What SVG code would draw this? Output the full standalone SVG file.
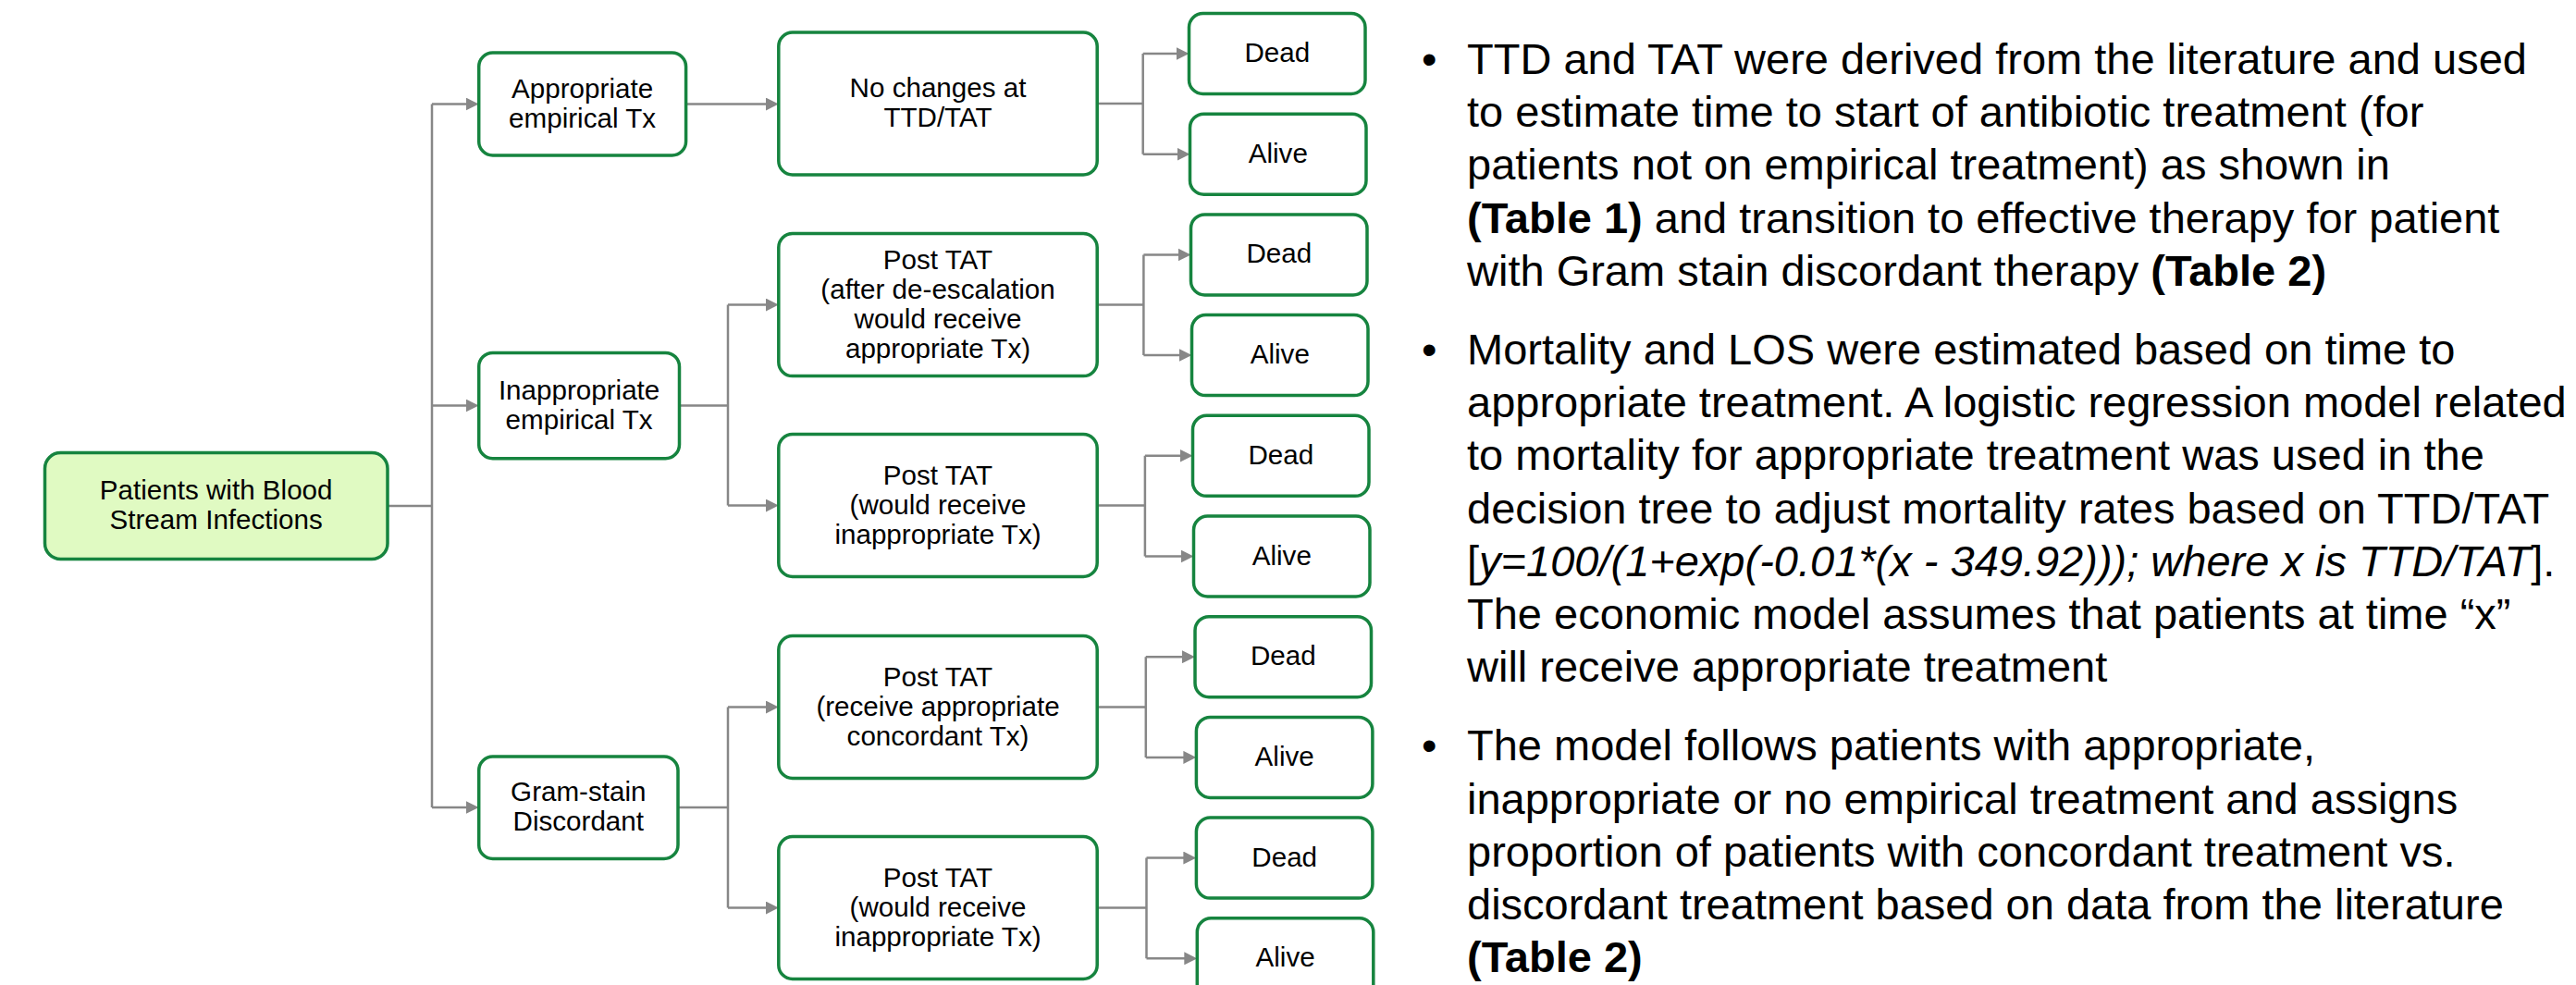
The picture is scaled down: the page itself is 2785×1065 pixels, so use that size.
<svg xmlns="http://www.w3.org/2000/svg" width="2785" height="1065" viewBox="0 0 2785 1065">
<defs>
<style>
.box{fill:#ffffff;stroke:#16843F;stroke-width:3.5}
.root{fill:#E0FAC2;stroke:#16843F;stroke-width:3.5}
.t{font-family:"Liberation Sans",Arial,sans-serif;font-size:29.6px;fill:#000;text-anchor:middle}
.c{fill:none;stroke:#878787;stroke-width:2.5}
.a{fill:none;stroke:#878787;stroke-width:2.5;marker-end:url(#arr)}
.p{font-family:"Liberation Sans",Arial,sans-serif;font-size:47px;fill:#000}
.b{font-weight:bold}
.i{font-style:italic}
</style>
<marker id="arr" markerUnits="userSpaceOnUse" markerWidth="14" markerHeight="14" refX="4" refY="7" orient="auto">
<path d="M0,0 L14,7 L0,14 z" fill="#878787"/>
</marker>
</defs>
<rect width="2785" height="1065" fill="#ffffff"/>

<g id="connectors">
<path class="c" d="M419,547 H467 M467,112.5 V873"/>
<path class="a" d="M467,112.5 H507.7"/>
<path class="a" d="M467,438.5 H507.7"/>
<path class="a" d="M467,873 H507.7"/>
<path class="a" d="M741.6,112.5 H831.8"/>
<path class="c" d="M734.5,438.5 H787 M787,329.5 V546.5"/>
<path class="a" d="M787,329.5 H831.8"/>
<path class="a" d="M787,546.5 H831.8"/>
<path class="c" d="M733,873 H787 M787,764.5 V981.5"/>
<path class="a" d="M787,764.5 H831.8"/>
<path class="a" d="M787,981.5 H831.8"/>
<path class="c" d="M1186.2,112 H1235.7 M1235.7,58 V166.7"/>
<path class="a" d="M1235.7,58 H1275.5"/>
<path class="a" d="M1235.7,166.7 H1276.5"/>
<path class="c" d="M1186.2,329.5 H1236.4 M1236.4,275.4 V384.1"/>
<path class="a" d="M1236.4,275.4 H1277.5"/>
<path class="a" d="M1236.4,384.1 H1278.5"/>
<path class="c" d="M1186.2,546.5 H1237.9 M1237.9,492.8 V601.5"/>
<path class="a" d="M1237.9,492.8 H1279.5"/>
<path class="a" d="M1237.9,601.5 H1280.5"/>
<path class="c" d="M1186.2,764.5 H1238.8 M1238.8,710.2 V818.9"/>
<path class="a" d="M1238.8,710.2 H1282"/>
<path class="a" d="M1238.8,818.9 H1283.4"/>
<path class="c" d="M1186.2,981.5 H1239.5 M1239.5,927.6 V1036.3"/>
<path class="a" d="M1239.5,927.6 H1283.4"/>
<path class="a" d="M1239.5,1036.3 H1284.3"/>
</g>

<g id="root">
<rect class="root" x="48.5" y="489.5" width="370.5" height="115" rx="17"/>
<text class="t" x="233.7" y="540">Patients with Blood</text>
<text class="t" x="233.7" y="572">Stream Infections</text>
</g>

<g id="appropriate">
<rect class="box" x="517.7" y="57" width="223.9" height="111" rx="15"/>
<text class="t" x="629.6" y="105.5">Appropriate</text>
<text class="t" x="629.6" y="137.5">empirical Tx</text>
</g>
<g id="inappropriate">
<rect class="box" x="517.7" y="381.4" width="216.8" height="114.3" rx="15"/>
<text class="t" x="626.1" y="431.5">Inappropriate</text>
<text class="t" x="626.1" y="463.5">empirical Tx</text>
</g>
<g id="gramstain">
<rect class="box" x="517.7" y="818" width="215.3" height="110.4" rx="15"/>
<text class="t" x="625.3" y="866">Gram-stain</text>
<text class="t" x="625.3" y="898">Discordant</text>
</g>

<g id="nochanges">
<rect class="box" x="841.8" y="35" width="344.4" height="154" rx="15"/>
<text class="t" x="1014" y="105">No changes at</text>
<text class="t" x="1014" y="137">TTD/TAT</text>
</g>
<g id="posttat1">
<rect class="box" x="841.8" y="252.6" width="344.4" height="154" rx="15"/>
<text class="t" x="1014" y="290.7">Post TAT</text>
<text class="t" x="1014" y="322.7">(after de-escalation</text>
<text class="t" x="1014" y="354.7">would receive</text>
<text class="t" x="1014" y="386.7">appropriate Tx)</text>
</g>
<g id="posttat2">
<rect class="box" x="841.8" y="469.5" width="344.4" height="154" rx="15"/>
<text class="t" x="1014" y="523.5">Post TAT</text>
<text class="t" x="1014" y="555.5">(would receive</text>
<text class="t" x="1014" y="587.5">inappropriate Tx)</text>
</g>
<g id="posttat3">
<rect class="box" x="841.8" y="687.5" width="344.4" height="154" rx="15"/>
<text class="t" x="1014" y="741.5">Post TAT</text>
<text class="t" x="1014" y="773.5">(receive appropriate</text>
<text class="t" x="1014" y="805.5">concordant Tx)</text>
</g>
<g id="posttat4">
<rect class="box" x="841.8" y="904.5" width="344.4" height="154" rx="15"/>
<text class="t" x="1014" y="958.5">Post TAT</text>
<text class="t" x="1014" y="990.5">(would receive</text>
<text class="t" x="1014" y="1022.5">inappropriate Tx)</text>
</g>

<g id="dead1"><rect class="box" x="1285.5" y="14.5" width="190.5" height="87" rx="15"/><text class="t" x="1380.8" y="67">Dead</text></g>
<g id="alive1"><rect class="box" x="1286.5" y="123.2" width="190.5" height="87" rx="15"/><text class="t" x="1381.8" y="175.7">Alive</text></g>
<g id="dead2"><rect class="box" x="1287.5" y="231.9" width="190.5" height="87" rx="15"/><text class="t" x="1382.8" y="284.4">Dead</text></g>
<g id="alive2"><rect class="box" x="1288.5" y="340.6" width="190.5" height="87" rx="15"/><text class="t" x="1383.8" y="393.1">Alive</text></g>
<g id="dead3"><rect class="box" x="1289.5" y="449.3" width="190.5" height="87" rx="15"/><text class="t" x="1384.8" y="501.8">Dead</text></g>
<g id="alive3"><rect class="box" x="1290.5" y="558" width="190.5" height="87" rx="15"/><text class="t" x="1385.8" y="610.5">Alive</text></g>
<g id="dead4"><rect class="box" x="1292" y="666.7" width="190.5" height="87" rx="15"/><text class="t" x="1387.3" y="719.2">Dead</text></g>
<g id="alive4"><rect class="box" x="1293.4" y="775.4" width="190.5" height="87" rx="15"/><text class="t" x="1388.7" y="827.9">Alive</text></g>
<g id="dead5"><rect class="box" x="1293.4" y="884.1" width="190.5" height="87" rx="15"/><text class="t" x="1388.7" y="936.6">Dead</text></g>
<g id="alive5"><rect class="box" x="1294.3" y="992.8" width="190.5" height="87" rx="15"/><text class="t" x="1389.6" y="1045.3">Alive</text></g>

<g id="notes">
<text class="p" x="1537" y="80">•</text>
<text class="p" x="1586" y="80">TTD and TAT were derived from the literature and used</text>
<text class="p" x="1586" y="137.2">to estimate time to start of antibiotic treatment (for</text>
<text class="p" x="1586" y="194.4">patients not on empirical treatment) as shown in</text>
<text class="p" x="1586" y="251.6"><tspan class="b">(Table 1)</tspan> and transition to effective therapy for patient</text>
<text class="p" x="1586" y="308.8">with Gram stain discordant therapy <tspan class="b">(Table 2)</tspan></text>

<text class="p" x="1537" y="394">•</text>
<text class="p" x="1586" y="394">Mortality and LOS were estimated based on time to</text>
<text class="p" x="1586" y="451.2">appropriate treatment. A logistic regression model related</text>
<text class="p" x="1586" y="508.4">to mortality for appropriate treatment was used in the</text>
<text class="p" x="1586" y="565.6">decision tree to adjust mortality rates based on TTD/TAT</text>
<text class="p" x="1586" y="622.8">[<tspan class="i">y=100/(1+exp(-0.01*(x - 349.92))); where x is TTD/TAT</tspan>].</text>
<text class="p" x="1586" y="680">The economic model assumes that patients at time “x”</text>
<text class="p" x="1586" y="737.2">will receive appropriate treatment</text>

<text class="p" x="1537" y="822.4">•</text>
<text class="p" x="1586" y="822.4">The model follows patients with appropriate,</text>
<text class="p" x="1586" y="879.6">inappropriate or no empirical treatment and assigns</text>
<text class="p" x="1586" y="936.8">proportion of patients with concordant treatment vs.</text>
<text class="p" x="1586" y="994">discordant treatment based on data from the literature</text>
<text class="p" x="1586" y="1051.2"><tspan class="b">(Table 2)</tspan></text>
</g>
</svg>
